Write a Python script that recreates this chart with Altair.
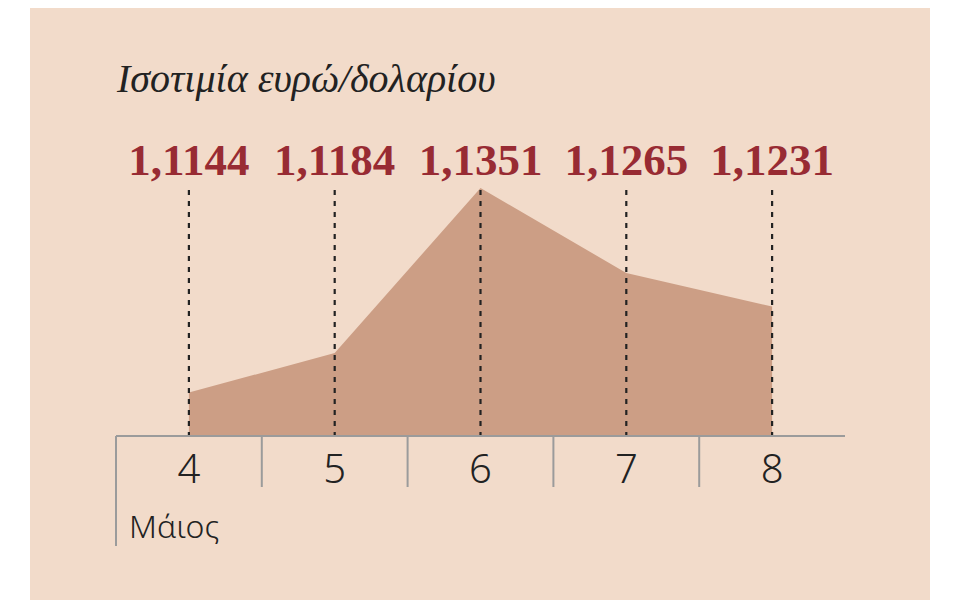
import altair as alt
import pandas as pd

# Data
days = [4, 5, 6, 7, 8]
rates = [1.1144, 1.1184, 1.1351, 1.1265, 1.1231]
labels = ["1,1144", "1,1184", "1,1351", "1,1265", "1,1231"]
title_text = "Ισοτιμία ευρώ/δολαρίου"
month_text = "Μάιος"

Y_MIN = 1.110
Y_MAX = 1.1351
X_MIN = days[0] - 0.5
X_MAX = days[-1] + 0.5

BG = "#f2dbca"
AREA = "#cc9e85"
RED = "#982b33"
INK = "#222222"
GRAY = "#9b9b9b"

W, H = 729, 248

df = pd.DataFrame({"day": days, "rate": rates, "label": labels, "base": [Y_MIN] * len(days)})
seps = pd.DataFrame({"x": [d + 0.5 for d in days[:-1]]})
one = pd.DataFrame({"a": [0]})

xs = alt.Scale(domain=[X_MIN, X_MAX], nice=False, zero=False)
ys = alt.Scale(domain=[Y_MIN, Y_MAX], nice=False, zero=False)

base = alt.Chart(df)

bg = alt.Chart(one).mark_rect(color=BG).encode(
    x=alt.value(-86), x2=alt.value(814), y=alt.value(-180), y2=alt.value(412)
)

area = base.mark_area(color=AREA, opacity=1).encode(
    x=alt.X("day:Q", scale=xs, axis=None),
    y=alt.Y("rate:Q", scale=ys, axis=None),
    y2="base:Q",
)

dashes = base.mark_rule(color=INK, strokeWidth=2.2, strokeDash=[5, 6]).encode(
    x=alt.X("day:Q", scale=xs, axis=None),
    y=alt.value(2),
    y2=alt.value(H),
)

axis_line = alt.Chart(one).mark_rule(color=GRAY, strokeWidth=2).encode(
    x=alt.value(0), x2=alt.value(W), y=alt.value(H)
)

sep_rules = alt.Chart(seps).mark_rule(color=GRAY, strokeWidth=2).encode(
    x=alt.X("x:Q", scale=xs, axis=None),
    y=alt.value(H),
    y2=alt.value(299),
)

left_rule = alt.Chart(one).mark_rule(color=GRAY, strokeWidth=2).encode(
    x=alt.value(0), y=alt.value(H), y2=alt.value(358)
)

value_text = base.mark_text(
    font="Liberation Serif", fontSize=45, fontWeight="bold", color=RED, align="center", baseline="alphabetic",
).encode(
    x=alt.X("day:Q", scale=xs, axis=None),
    y=alt.value(-13),
    text="label:N",
)

tick_text = base.mark_text(
    font="Noto Sans", fontSize=40, fontWeight=300, color=INK, align="center", baseline="alphabetic",
).encode(
    x=alt.X("day:Q", scale=xs, axis=None),
    y=alt.value(295),
    text="day:N",
)

month = alt.Chart(pd.DataFrame({"t": [month_text]})).mark_text(
    font="Noto Sans", fontSize=32, fontWeight=300, color=INK, align="left", baseline="alphabetic",
).encode(x=alt.value(13), y=alt.value(350), text="t:N")

title = alt.Chart(pd.DataFrame({"t": [title_text]})).mark_text(
    font="Liberation Serif", fontSize=40, fontStyle="italic", color=INK, align="left", baseline="alphabetic",
).encode(x=alt.value(1), y=alt.value(-96), text="t:N")

chart = alt.layer(
    bg, area, dashes, axis_line, sep_rules, left_rule, value_text, tick_text, month, title
).properties(
    width=W, height=H,
    padding={"left": 108, "top": 180, "right": 85, "bottom": 164},
    autosize=alt.AutoSizeParams(type="none"),
    background="white",
).configure_view(strokeWidth=0)

chart.save("out.html", embed_options={"renderer": "svg", "actions": False})
